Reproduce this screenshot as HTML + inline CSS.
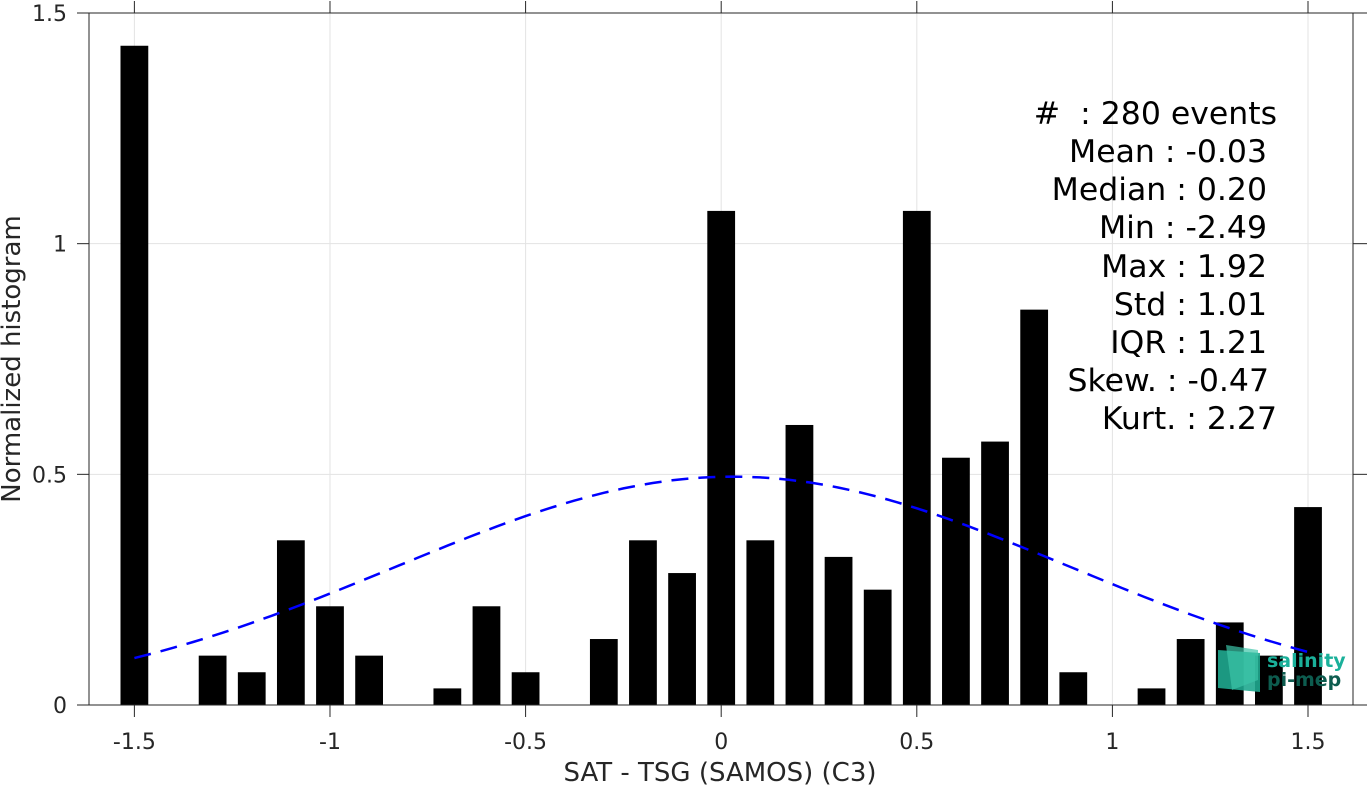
<!DOCTYPE html>
<html><head><meta charset="utf-8"><style>
body{margin:0;background:#fff;}
svg{display:block;font-family:"DejaVu Sans","Liberation Sans",sans-serif;}
</style></head><body>
<svg id="chart" width="1367" height="785">
<g id="grid"></g>
<g id="bars"></g>
<path id="fit" fill="none" stroke="#0000ff" stroke-width="2.5" stroke-dasharray="17,10"/>
<g id="axes"></g>
<g font-size="31.5" fill="#000" text-anchor="end">
<text x="1277" y="124">#&#160;&#160;: 280 events</text>
<text x="1267" y="162">Mean : -0.03</text>
<text x="1267" y="200">Median : 0.20</text>
<text x="1267" y="238">Min : -2.49</text>
<text x="1267" y="277">Max : 1.92</text>
<text x="1267" y="315">Std : 1.01</text>
<text x="1267" y="353">IQR : 1.21</text>
<text x="1269" y="391">Skew. : -0.47</text>
<text x="1277" y="429">Kurt. : 2.27</text>
</g>
<g>
<polygon points="1218,650 1260,653 1260,692 1218,688" fill="#1fa88f" opacity="0.9"/>
<polygon points="1226,645 1258,650 1258,680 1232,690" fill="#3cc4a8" opacity="0.7"/>
<text x="1267" y="667" font-size="19" font-weight="bold" fill="#1ab09a">salinity</text>
<text x="1267" y="686" font-size="19" font-weight="bold" fill="#0d5c4f">pi-mep</text>
</g>
<text x="720" y="781" font-size="26" fill="#262626" text-anchor="middle">SAT - TSG (SAMOS) (C3)</text>
<text transform="translate(20,359) rotate(-90)" font-size="26" fill="#262626" text-anchor="middle">Normalized histogram</text>
</svg>
<script>
const binCenters=[-1.5,-1.4,-1.3,-1.2,-1.1,-1.0,-0.9,-0.8,-0.7,-0.6,-0.5,-0.4,-0.3,-0.2,-0.1,0,0.1,0.2,0.3,0.4,0.5,0.6,0.7,0.8,0.9,1.0,1.1,1.2,1.3,1.4,1.5];
const binValues=[1.429,0,0.107,0.071,0.357,0.214,0.107,0,0.036,0.214,0.071,0,0.143,0.357,0.286,1.071,0.357,0.607,0.321,0.25,1.071,0.536,0.571,0.857,0.071,0,0.036,0.143,0.179,0.107,0.429];
const xTicks=[-1.5,-1,-0.5,0,0.5,1,1.5];
const xTickLabels=["-1.5","-1","-0.5","0","0.5","1","1.5"];
const yTicks=[0,0.5,1,1.5];
const yTickLabels=["0","0.5","1","1.5"];
const fitMean=[0.03];
const fitSigma=[0.86];
const fitPeak=[0.495];
const X0=89,X1=1353,Y0=705,Y1=13,xmin=-1.616,xmax=1.615,ymin=0,ymax=1.5;
const xs=v=>X0+(v-xmin)/(xmax-xmin)*(X1-X0);
const ys=v=>Y0-(v-ymin)/(ymax-ymin)*(Y0-Y1);
const NS="http://www.w3.org/2000/svg";
function mk(parent,tag,attrs){const e=document.createElementNS(NS,tag);for(const k in attrs)e.setAttribute(k,attrs[k]);parent.appendChild(e);return e;}
const grid=document.getElementById('grid'),bars=document.getElementById('bars'),axes=document.getElementById('axes');
xTicks.forEach(t=>{const l=mk(grid,'line',{x1:xs(t),x2:xs(t),y1:Y1,y2:Y0,stroke:'#e3e3e3','stroke-width':1});

});
yTicks.forEach(t=>{const l=mk(grid,'line',{x1:X0,x2:X1,y1:ys(t),y2:ys(t),stroke:'#e3e3e3','stroke-width':1});

});
const bw=0.071*(X1-X0)/(xmax-xmin);
binCenters.forEach((c,i)=>{const v=binValues[i];const r=mk(bars,'rect',{x:xs(c)-bw/2,y:ys(v),width:bw,height:ys(0)-ys(v),fill:'#000'});

});
let d='';for(let k=0;k<=120;k++){const x=-1.5+3*k/120;const y=fitPeak[0]*Math.exp(-Math.pow(x-fitMean[0],2)/(2*fitSigma[0]*fitSigma[0]));d+=(k?'L':'M')+xs(x).toFixed(1)+','+ys(y).toFixed(1);}
document.getElementById('fit').setAttribute('d',d);
mk(axes,'rect',{x:X0,y:Y1,width:X1-X0,height:Y0-Y1,fill:'none',stroke:'#262626','stroke-width':1});
xTicks.forEach((t,i)=>{mk(axes,'line',{x1:xs(t),x2:xs(t),y1:Y0,y2:Y0+12,stroke:'#262626'});mk(axes,'line',{x1:xs(t),x2:xs(t),y1:Y1,y2:Y1-12,stroke:'#262626'});
const tx=mk(axes,'text',{x:xs(t),y:749,'font-size':22,fill:'#262626','text-anchor':'middle'});tx.textContent=xTickLabels[i];

});
yTicks.forEach((t,i)=>{mk(axes,'line',{x1:X0-12,x2:X0,y1:ys(t),y2:ys(t),stroke:'#262626'});mk(axes,'line',{x1:X1,x2:X1+14,y1:ys(t),y2:ys(t),stroke:'#262626'});
const tx=mk(axes,'text',{x:67,y:ys(t)+8,'font-size':22,fill:'#262626','text-anchor':'end'});tx.textContent=yTickLabels[i];

});
</script>
</body></html>
